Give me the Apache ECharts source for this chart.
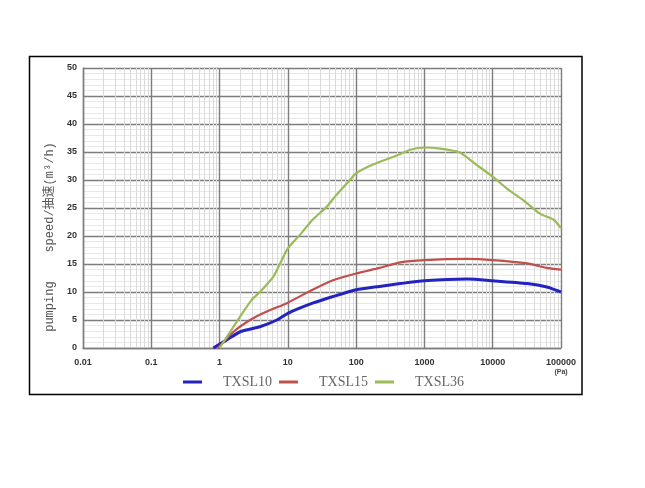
<!DOCTYPE html>
<html><head><meta charset="utf-8">
<script src="https://cdn.jsdelivr.net/npm/echarts@6/dist/echarts.min.js"></script>
<style>html,body{margin:0;padding:0;background:#fff}#c{width:645px;height:488px}</style>
</head><body><div id="c"></div>
<script>
// Pressure (Pa) and pumping speed (m³/h)
const txsl10P = [0.81, 1.26, 2, 3.9, 6.9, 10, 23, 46, 100, 220, 440, 1000, 4200, 10000, 32000, 62000, 100000];
const txsl10S = [0, 1.4, 2.9, 3.8, 5.0, 6.2, 8.0, 9.2, 10.4, 11.0, 11.5, 12.0, 12.3, 12.0, 11.5, 10.9, 10.0];
const txsl15P = [0.95, 1.6, 2.8, 4.9, 10, 23, 46, 100, 220, 440, 1000, 4200, 10000, 32000, 62000, 100000];
const txsl15S = [0, 2.9, 5.0, 6.5, 8.1, 10.4, 12.1, 13.3, 14.3, 15.3, 15.7, 15.9, 15.7, 15.1, 14.3, 14.0];
const txsl36P = [1, 2, 2.95, 3.9, 6.1, 7.7, 10, 15, 23, 37, 51, 81, 100, 180, 440, 620, 1000, 1700, 3300, 5800, 10000, 16000, 28000, 49000, 78000, 100000];
const txsl36S = [0, 5.6, 8.6, 10, 12.7, 15.1, 17.8, 20.2, 22.9, 25.2, 27.3, 30, 31.2, 32.8, 34.6, 35.4, 35.8, 35.6, 34.9, 32.7, 30.6, 28.5, 26.4, 24, 22.9, 21.4];
const seriesNames = ['TXSL10', 'TXSL15', 'TXSL36'];
const xTickLabels = ['0.01', '0.1', '1', '10', '100', '1000', '10000', '100000'];
const decades = [0.01, 0.1, 1, 10, 100, 1000, 10000];
const minorMult = [2, 3, 4, 5, 6, 7, 8, 9];

const zip = (a, b) => a.map((v, i) => [v, b[i]]);
const minorLines = [];
decades.forEach(d => minorMult.forEach(m => minorLines.push({ xAxis: +(d * m).toPrecision(3) })));

const major = { color: '#7d7d7d', width: 1.4 };
const chart = echarts.init(document.getElementById('c'), null, { renderer: 'canvas' });
chart.setOption({
  animation: false,
  backgroundColor: '#fff',
  grid: { left: 83, top: 68, width: 478, height: 280 },
  xAxis: {
    type: 'log', logBase: 10, min: 0.01, max: 100000,
    axisLine: { show: true, lineStyle: major },
    axisTick: { show: false },
    axisLabel: {
      margin: 10, color: '#333', fontSize: 9, fontWeight: 'bold', fontFamily: 'Liberation Sans',
      formatter: v => { const i = Math.round(Math.log10(v)) + 2; return xTickLabels[i] || ''; }
    },
    splitLine: { show: true, lineStyle: major }
  },
  yAxis: {
    type: 'value', min: 0, max: 50, interval: 5,
    axisLine: { show: true, lineStyle: major },
    axisTick: { show: false },
    axisLabel: { margin: 6, color: '#333', fontSize: 9, fontWeight: 'bold', fontFamily: 'Liberation Sans' },
    splitLine: { show: true, lineStyle: major },
    minorTick: { show: false, splitNumber: 5 },
    minorSplitLine: { show: true, lineStyle: { color: '#e8e8e8', width: 1 } }
  },
  legend: {
    data: seriesNames,
    left: 178, top: 370, itemGap: 7,
    icon: 'rect', itemWidth: 19, itemHeight: 3,
    textStyle: { fontFamily: 'Liberation Serif', fontSize: 14, color: '#666', padding: [0, 0, 0, 16] }
  },
  graphic: [
    { type: 'rect', shape: { x: 29.5, y: 56.5, width: 552.5, height: 338 }, style: { fill: 'none', stroke: '#000', lineWidth: 1.5 }, z: 100 },
    { type: 'text', x: 50, y: 237, rotation: Math.PI / 2,
      style: { text: 'pumping    speed/抽速(m³/h)', font: '12px "Liberation Mono", "Noto Sans CJK SC"', fill: '#555', align: 'center', verticalAlign: 'middle' } },
    { type: 'text', x: 561, y: 372, style: { text: '(Pa)', font: 'bold 7px "Liberation Sans"', fill: '#444', align: 'center', verticalAlign: 'middle' } }
  ],
  series: [
    { name: 'gridMinor', type: 'line', data: [], silent: true,
      markLine: { silent: true, symbol: ['none', 'none'], label: { show: false }, z: 0,
        lineStyle: { color: '#dadada', width: 1, type: 'solid' }, emphasis: { disabled: true }, data: minorLines } },
    { name: seriesNames[0], type: 'line', data: zip(txsl10P, txsl10S), showSymbol: false, smooth: 0.2, z: 5,
      color: '#2323c0', lineStyle: { width: 3, color: '#2323c0' } },
    { name: seriesNames[1], type: 'line', data: zip(txsl15P, txsl15S), showSymbol: false, smooth: 0.2, z: 5,
      color: '#c0504d', lineStyle: { width: 2.2, color: '#c0504d' } },
    { name: seriesNames[2], type: 'line', data: zip(txsl36P, txsl36S), showSymbol: false, smooth: 0.2, z: 5,
      color: '#9bbb59', lineStyle: { width: 2.2, color: '#9bbb59' } }
  ]
});
</script></body></html>
